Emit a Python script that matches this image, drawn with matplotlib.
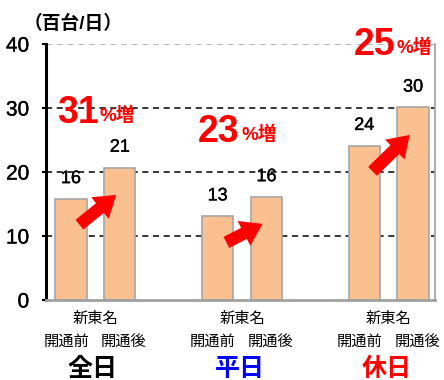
import numpy as np
import matplotlib
matplotlib.use("Agg")
from matplotlib import pyplot as plt
import matplotlib.patheffects as pe

plt.rcParams['font.family'] = ['Liberation Sans', 'Noto Sans CJK JP']

# traffic volume (hundreds of vehicles / day), before and after opening
groups = ['全日', '平日', '休日']
group_colors = ['black', '#0000FF', '#FF0000']
before = [15.8, 13.1, 24.1]
after = [20.7, 16.1, 30.1]
increase = ['31', '23', '25']
bar_labels = ['開通前', '開通後']
yticks = [0, 10, 20, 30, 40]

fig = plt.figure(figsize=(4.44, 3.80), dpi=100)
ax = fig.add_axes([0.1036, 0.2105, 0.8764, 0.6735])

pos_before = np.array([0, 3, 6])
pos_after = pos_before + 1
width = 0.64
heavy = [pe.withStroke(linewidth=0.25, foreground='black')]

for y in [10, 20, 30]:
    ax.axhline(y, color='black', lw=1.1, ls=(0, (4, 3)), zorder=1)
ax.axhline(40, color='#A0A0A0', lw=1.1, ls=(0, (4, 3)), zorder=1)

ax.bar(pos_before, before, width, color='#FAC090', edgecolor='#A6A6A6', lw=1.2, zorder=2)
ax.bar(pos_after, after, width, color='#FAC090', edgecolor='#A6A6A6', lw=1.2, zorder=2)

for xs, vals in [(pos_before, before), (pos_after, after)]:
    for x, v in zip(xs, vals):
        ax.annotate('%.0f' % v, (x, v), xytext=(0, 8.5), textcoords='offset points',
                    ha='center', va='bottom', fontsize=13, path_effects=heavy)

# red arrows from the "before" bar to the "after" bar
for xb, vb, va_ in zip(pos_before, before, after):
    ax.annotate('', xy=(xb + 0.97, va_ - 4.0), xytext=(xb + 0.13, vb - 4.3),
                arrowprops=dict(arrowstyle='simple,head_width=2.0,head_length=1.5,tail_width=0.9',
                                mutation_scale=10, color='#FF0000', lw=0),
                zorder=3)

# percent increase labels
pct_pos = [(-0.29, 27.7), (2.6, 24.7), (5.78, 38.3)]
for (px, py), p in zip(pct_pos, increase):
    t = ax.text(px, py, p, color='#FF0000', fontsize=27, fontweight='bold',
                ha='left', va='baseline', zorder=4)
    ax.annotate('%増', xy=(1, 0), xycoords=t, xytext=(1, 4), textcoords='offset points',
                ha='left', va='bottom', color='#FF0000', fontsize=13.5, fontweight='bold')

ax.set_xlim(-0.51, 7.45)
ax.set_ylim(0, 40)
ax.set_yticks(yticks)
ax.set_yticklabels([str(v) for v in yticks], fontsize=15)
for lbl in ax.get_yticklabels():
    lbl.set_path_effects(heavy)
ax.set_xticks([])
ax.tick_params(axis='y', length=3, width=1.5, pad=9)

ax.spines['top'].set_visible(False)
ax.spines['left'].set_linewidth(2.2)
ax.spines['left'].set_color('black')
ax.spines['right'].set_color('#A0A0A0')
ax.spines['right'].set_linewidth(1.2)
ax.spines['bottom'].set_color('#A0A0A0')
ax.spines['bottom'].set_linewidth(2.0)

# category labels below the axis
for i, g in enumerate(groups):
    c = (pos_before[i] + pos_after[i]) / 2
    ax.text(c, -0.075, '新東名', transform=ax.get_xaxis_transform(), ha='center', va='center',
            fontsize=11)
    ax.text(pos_before[i] - 0.1, -0.163, bar_labels[0], transform=ax.get_xaxis_transform(),
            ha='center', va='center', fontsize=11)
    ax.text(pos_after[i] + 0.08, -0.163, bar_labels[1], transform=ax.get_xaxis_transform(),
            ha='center', va='center', fontsize=11)
    ax.text(c - 0.05, -0.27, g, transform=ax.get_xaxis_transform(), ha='center', va='center',
            fontsize=18, fontweight='bold', color=group_colors[i])

fig.text(24 / 444, 1 - 24 / 380, '（百台/日）', ha='left', va='center', fontsize=13.5,
         fontweight='bold')

fig.savefig('out.png', dpi=100)
